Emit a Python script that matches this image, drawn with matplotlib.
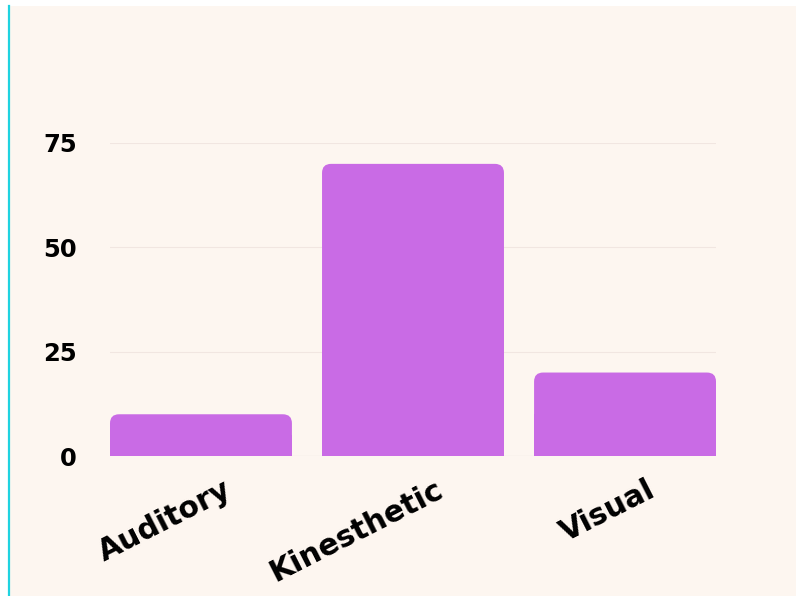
import matplotlib.pyplot as plt
from matplotlib.patches import FancyBboxPatch, Rectangle
from matplotlib.lines import Line2D
import matplotlib.transforms as mtransforms

styles = ['Auditory', 'Kinesthetic', 'Visual']
counts = [10, 70, 20]
y_ticks = [0, 25, 50, 75]

bg = '#FDF6F0'
bar_color = '#C96BE5'

fig = plt.figure(figsize=(7.96, 5.96), dpi=100, facecolor='white')

# cream panel with a cyan rule on its left edge
fig.patches.append(Rectangle((10 / 796, 0), 1, 1 - 6 / 596, transform=fig.transFigure,
                             facecolor=bg, edgecolor='none', zorder=-2))
fig.lines.append(Line2D([8.5 / 796, 8.5 / 796], [0, 1 - 6 / 596], transform=fig.transFigure,
                        color='#1FD3E0', linewidth=1.6, zorder=-1))

ax = fig.add_axes([110 / 796, 1 - 456 / 596, 606 / 796, 313 / 596])
ax.set_zorder(1)
ax.set_facecolor('none')

width = 0.858
ax.set_xlim(-width / 2, len(styles) - 1 + width / 2)
ax.set_ylim(0, 75)

# pixel size of one data unit, used for the corner radius
px_x = ax.get_window_extent().width / (ax.get_xlim()[1] - ax.get_xlim()[0])
px_y = ax.get_window_extent().height / (ax.get_ylim()[1] - ax.get_ylim()[0])
r = 9 / px_x

for i, v in enumerate(counts):
    left = i - width / 2
    ax.add_patch(FancyBboxPatch((left + r, r * px_x / px_y), width - 2 * r, v - 2 * r * px_x / px_y,
                                boxstyle=f'round,pad={r},rounding_size={r}',
                                mutation_aspect=px_x / px_y,
                                facecolor=bar_color, edgecolor='none', zorder=2))
    ax.add_patch(Rectangle((left, 0), width, v / 2, facecolor=bar_color,
                           edgecolor='none', zorder=2))

ax.set_yticks(y_ticks)
ax.set_xticks(range(len(styles)))
ax.set_xticklabels(styles)
ax.grid(axis='y', color='#F1E6E1', linewidth=0.8, zorder=0)
ax.axhline(0, color='#E6DCD8', linewidth=0.8, zorder=1)
for s in ax.spines.values():
    s.set_visible(False)
ax.tick_params(length=0)

for lab in ax.get_yticklabels():
    lab.set_fontsize(17.5)
    lab.set_fontweight('bold')
ax.tick_params(axis='y', pad=24)

offset = mtransforms.ScaledTranslation(22 / 100, -14 / 100, fig.dpi_scale_trans)
for lab in ax.get_xticklabels():
    lab.set_fontsize(21.5)
    lab.set_fontweight('bold')
    lab.set_rotation(27)
    lab.set_ha('right')
    lab.set_rotation_mode('anchor')
    lab.set_transform(lab.get_transform() + offset)

fig.savefig('out.png', dpi=100, facecolor='white')
